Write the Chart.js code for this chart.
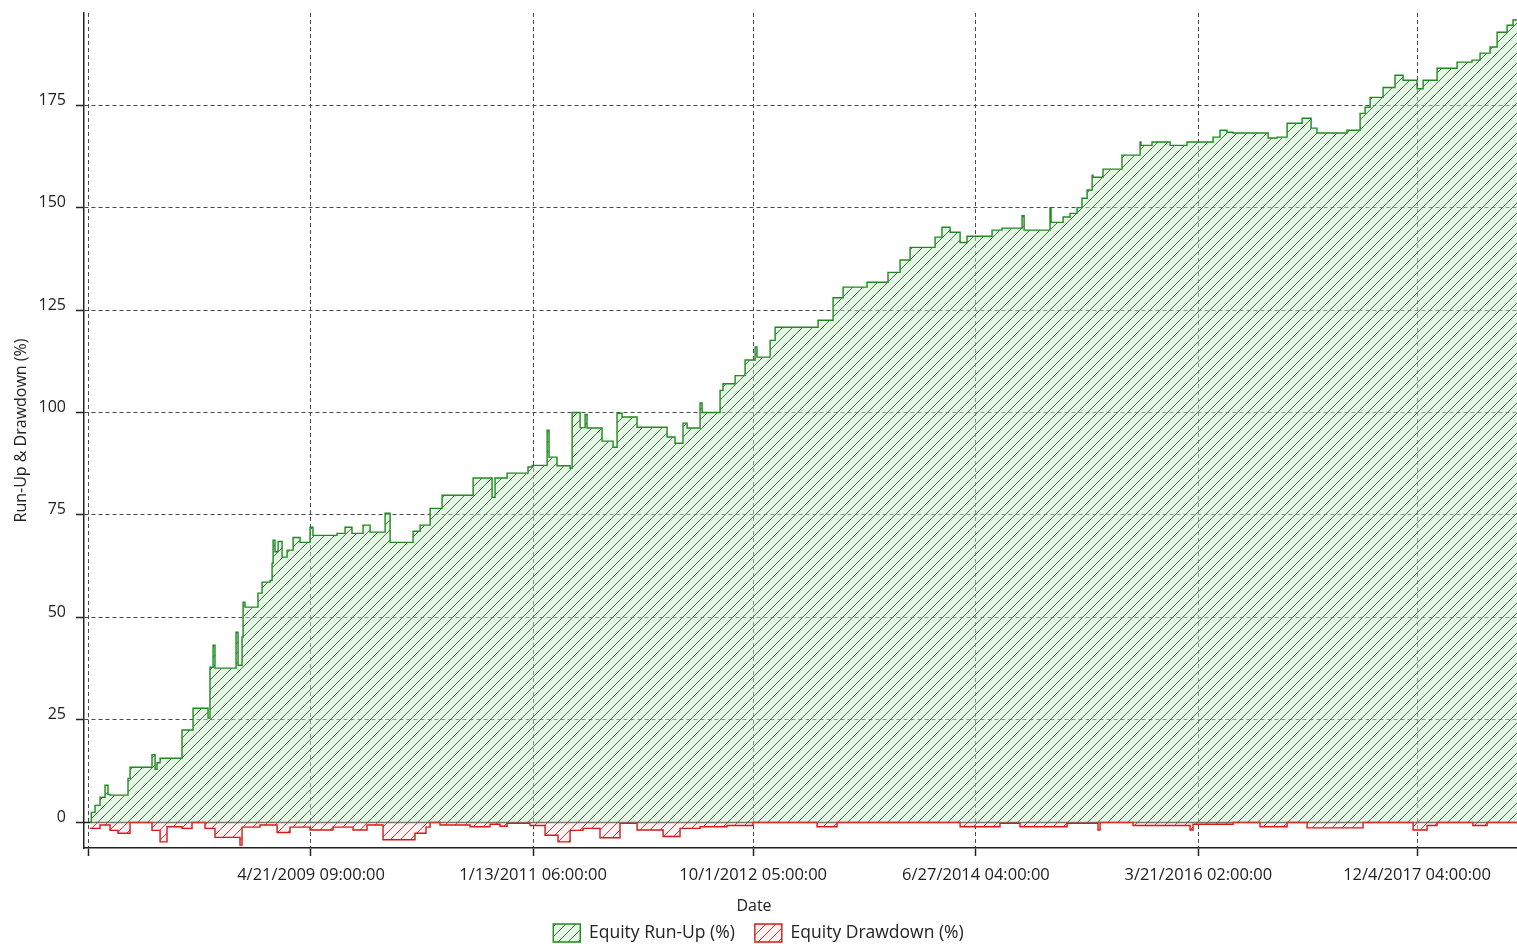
<!DOCTYPE html>
<html>
<head>
<meta charset="utf-8">
<script src="https://cdn.jsdelivr.net/npm/chart.js@4"></script>
<style>
  body { margin: 0; background: #fff; }
  #wrap { width: 1517px; height: 944px; }
</style>
</head>
<body>
<div id="wrap"><canvas id="chart"></canvas></div>
<script>
// x values are decimal years (2009.30 = late April 2009)
const runUpX = [
  2007.580, 2007.590, 2007.619, 2007.658, 2007.697, 2007.720, 2007.736, 2007.876, 2007.892, 2008.063,
  2008.087, 2008.102, 2008.126, 2008.297, 2008.383, 2008.500, 2008.515, 2008.539, 2008.554, 2008.718,
  2008.734, 2008.765, 2008.773, 2008.788, 2008.889, 2008.921, 2008.983, 2008.999, 2009.007, 2009.022,
  2009.046, 2009.077, 2009.116, 2009.163, 2009.217, 2009.295, 2009.318, 2009.505, 2009.568, 2009.622,
  2009.708, 2009.763, 2009.880, 2009.919, 2010.098, 2010.153, 2010.231, 2010.324, 2010.566, 2010.714,
  2010.737, 2010.831, 2010.994, 2011.026, 2011.143, 2011.158, 2011.220, 2011.322, 2011.338, 2011.400,
  2011.439, 2011.454, 2011.571, 2011.657, 2011.688, 2011.727, 2011.844, 2012.078, 2012.140, 2012.202,
  2012.234, 2012.335, 2012.351, 2012.491, 2012.514, 2012.608, 2012.686, 2012.764, 2012.779, 2012.881,
  2012.920, 2013.255, 2013.372, 2013.450, 2013.637, 2013.800, 2013.894, 2013.972, 2014.167, 2014.221,
  2014.284, 2014.362, 2014.416, 2014.611, 2014.689, 2014.845, 2014.861, 2015.063, 2015.071, 2015.165,
  2015.219, 2015.274, 2015.312, 2015.352, 2015.391, 2015.398, 2015.476, 2015.624, 2015.765, 2015.772,
  2015.858, 2015.999, 2016.131, 2016.334, 2016.388, 2016.443, 2016.490, 2016.763, 2016.833, 2016.911,
  2017.028, 2017.098, 2017.144, 2017.378, 2017.480, 2017.519, 2017.558, 2017.659, 2017.752, 2017.815,
  2017.924, 2017.971, 2018.080, 2018.236, 2018.352, 2018.415, 2018.493, 2018.548, 2018.626, 2018.672,
  2018.703
];
const runUpY = [
  0, 2.4, 4.1, 6.1, 9.0, 6.8, 6.6, 10.7, 13.4, 16.5,
  12.9, 14.5, 15.6, 22.5, 27.8, 25.4, 37.8, 43.2, 37.6, 46.4,
  38.3, 45.2, 53.7, 52.5, 55.9, 58.6, 59.0, 63.2, 68.8, 66.0,
  68.5, 64.7, 66.4, 69.5, 68.3, 72.0, 70.0, 70.5, 72.0, 70.5,
  72.5, 70.8, 75.4, 68.3, 71.0, 72.5, 76.6, 79.8, 84.0, 79.3,
  84.0, 85.2, 86.7, 87.1, 95.7, 89.1, 87.0, 86.4, 100.0, 96.3,
  99.5, 96.2, 93.0, 91.5, 99.8, 98.9, 96.4, 94.0, 92.5, 97.4,
  96.2, 102.3, 100.0, 105.4, 107.0, 109.0, 112.8, 116.0, 113.5, 117.6,
  120.8, 122.5, 128.0, 130.6, 131.8, 134.2, 137.2, 140.3, 142.8, 145.2,
  144.0, 141.5, 143.0, 144.5, 145.0, 148.0, 144.5, 150.0, 146.4, 147.7,
  148.6, 150.0, 152.3, 154.3, 157.9, 157.4, 159.4, 162.8, 166.0, 165.2,
  166.0, 165.2, 166.0, 167.2, 168.9, 168.4, 168.2, 167.0, 167.2, 170.6,
  171.8, 169.4, 168.2, 168.9, 173.0, 174.5, 176.9, 179.3, 182.3, 181.1,
  179.0, 181.1, 184.0, 185.5, 186.0, 187.7, 189.2, 192.8, 194.5, 195.8,
  195.8
];

const drawdownX = [
  2007.580, 2007.658, 2007.736, 2007.798, 2007.892, 2008.063, 2008.126, 2008.180, 2008.297, 2008.375,
  2008.476, 2008.554, 2008.749, 2008.765, 2008.905, 2009.038, 2009.139, 2009.295, 2009.474, 2009.630,
  2009.739, 2009.864, 2010.113, 2010.199, 2010.231, 2010.308, 2010.542, 2010.698, 2010.776, 2010.831,
  2011.010, 2011.127, 2011.228, 2011.322, 2011.423, 2011.555, 2011.711, 2011.844, 2012.047, 2012.179,
  2012.335, 2012.545, 2012.748, 2013.247, 2013.403, 2014.362, 2014.673, 2014.829, 2015.196, 2015.437,
  2015.453, 2015.710, 2016.155, 2016.178, 2016.490, 2016.700, 2016.911, 2017.067, 2017.503, 2017.893,
  2018.002, 2018.080, 2018.359, 2018.470, 2018.703
];
const drawdownY = [
  -1.5, -0.7, -2.0, -2.7, 0, -2.0, -4.8, -1.1, -1.5, 0,
  -1.5, -3.7, -5.6, -1.2, -0.7, -2.5, -1.2, -1.9, -1.2, -1.9,
  -0.7, -4.3, -2.7, -1.2, 0, -0.7, -1.1, -0.5, -1.0, -0.3,
  -0.8, -3.2, -4.8, -2.0, -1.5, -3.8, -0.3, -1.9, -3.5, -1.5,
  -1.1, -0.8, 0, -1.1, 0, -1.1, -0.3, -1.1, -0.3, -1.9,
  0, -0.8, -1.9, -0.5, 0, -1.1, 0, -1.4, 0, -1.9,
  -0.8, 0, -0.8, 0, 0
];

const xTickDates = ['2007-07-26T00:00', '2009-04-21T09:00', '2011-01-13T06:00', '2012-10-01T05:00',
                    '2014-06-27T04:00', '2016-03-21T02:00', '2017-12-04T04:00'];
const xTickLabels = ['', '4/21/2009 09:00:00', '1/13/2011 06:00:00', '10/1/2012 05:00:00',
                     '6/27/2014 04:00:00', '3/21/2016 02:00:00', '12/4/2017 04:00:00'];
const yTicks = [0, 25, 50, 75, 100, 125, 150, 175];

function toYear(s) {
    const d = new Date(s + 'Z');
    const y = d.getUTCFullYear();
    const start = Date.UTC(y, 0, 1), end = Date.UTC(y + 1, 0, 1);
    return y + (d.getTime() - start) / (end - start);
}
const xTickValues = xTickDates.map(toYear);

function hatch(bg, fg) {
    const s = 10;
    const c = document.createElement('canvas');
    c.width = s; c.height = s;
    const g = c.getContext('2d');
    g.fillStyle = bg;
    g.fillRect(0, 0, s, s);
    g.strokeStyle = fg;
    g.lineWidth = 1;
    g.beginPath();
    g.moveTo(0, s); g.lineTo(s, 0);
    g.moveTo(-2, 2); g.lineTo(2, -2);
    g.moveTo(s - 2, s + 2); g.lineTo(s + 2, s - 2);
    g.stroke();
    return g.createPattern(c, 'repeat');
}

const font = "'Open Sans', 'DejaVu Sans', sans-serif";

// solid line at zero (under the series) and the "Date" caption, which sits left of the plot centre
const extras = {
    id: 'extras',
    beforeDatasetsDraw(chart) {
        const {ctx, chartArea, scales} = chart;
        const y = Math.round(scales.y.getPixelForValue(0)) + 0.5;
        ctx.save();
        ctx.strokeStyle = '#1a1a1a';
        ctx.lineWidth = 1.5;
        ctx.beginPath();
        ctx.moveTo(chartArea.left, y);
        ctx.lineTo(chartArea.right, y);
        ctx.stroke();
        ctx.restore();
    },
    afterDraw(chart) {
        const ctx = chart.ctx;
        ctx.save();
        ctx.font = '16px ' + font;
        ctx.fillStyle = '#222';
        ctx.textAlign = 'center';
        ctx.textBaseline = 'middle';
        ctx.fillText('Date', 754, 906);
        ctx.restore();
    }
};

const data = {
    datasets: [{
        label: 'Equity Run-Up (%)',
        data: runUpX.map((x, i) => ({x: x, y: runUpY[i]})),
        borderColor: '#1f8a1f',
        borderWidth: 1.4,
        backgroundColor: hatch('rgba(200,235,200,0.5)', 'rgba(60,80,60,0.85)'),
        fill: 'origin',
        stepped: true,
        pointRadius: 0
    },
    {
        label: 'Equity Drawdown (%)',
        data: drawdownX.map((x, i) => ({x: x, y: drawdownY[i]})),
        borderColor: '#d81818',
        borderWidth: 1.4,
        backgroundColor: hatch('rgba(255,228,228,0.5)', 'rgba(200,40,40,0.9)'),
        fill: 'origin',
        stepped: true,
        pointRadius: 0
    }]
};

const config = {
    type: 'line',
    data: data,
    options: {
        responsive: true,
        maintainAspectRatio: false,
        animation: false,
        layout: { padding: { top: 13, right: 0, left: 0, bottom: -8 } },
        plugins: {
            legend: {
                position: 'bottom',
                labels: {
                    font: { family: font, size: 17.5 },
                    color: '#222',
                    boxWidth: 27,
                    boxHeight: 18,
                    padding: 20
                }
            },
            tooltip: { enabled: false }
        },
        scales: {
            x: {
                type: 'linear',
                min: 2007.533,
                max: 2018.703,
                afterBuildTicks: axis => { axis.ticks = xTickValues.map(v => ({value: v})); },
                afterFit: axis => { axis.height = 56; axis.paddingLeft = 0; axis.paddingRight = 0; },
                ticks: {
                    autoSkip: false,
                    maxRotation: 0,
                    padding: 9,
                    color: '#222',
                    font: { family: font, size: 16.5 },
                    callback: (v, i) => xTickLabels[i]
                },
                grid: {
                    color: '#4a4a4a',
                    lineWidth: 1,
                    tickLength: 8,
                    tickColor: '#222',
                    tickWidth: 1.5
                },
                border: { display: true, color: '#222', width: 1.5, dash: [4, 3] }
            },
            y: {
                min: -6.3,
                max: 197.5,
                afterBuildTicks: axis => { axis.ticks = yTicks.map(v => ({value: v})); },
                afterFit: axis => { axis.width = 84; axis.paddingTop = 0; axis.paddingBottom = 0; },
                ticks: {
                    padding: 10,
                    labelOffset: -5,
                    color: '#222',
                    font: { family: font, size: 16 }
                },
                grid: {
                    color: '#4a4a4a',
                    lineWidth: 1,
                    tickLength: 8,
                    tickColor: '#222',
                    tickWidth: 1.5
                },
                border: { display: true, color: '#222', width: 1.5, dash: [4, 3] },
                title: {
                    display: true,
                    text: 'Run-Up & Drawdown (%)',
                    color: '#222',
                    font: { family: font, size: 16 },
                    padding: { top: 12, bottom: 0 }
                }
            }
        }
    },
    plugins: [extras]
};

const myChart = new Chart(document.getElementById('chart'), config);
</script>
</body>
</html>
